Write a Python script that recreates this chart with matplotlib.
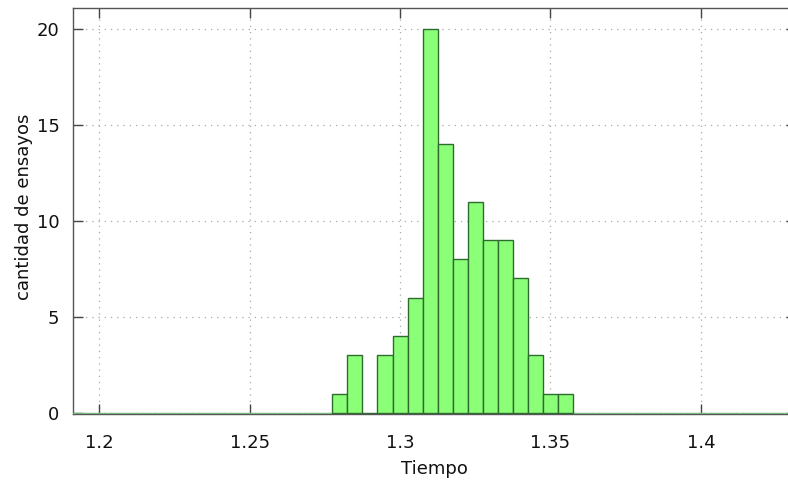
import numpy as np
import matplotlib
matplotlib.use("Agg")
import matplotlib.pyplot as plt

# Histogram of trial times (bin width 0.005)
bin_width = 0.005
bin_centers = [1.280, 1.285, 1.290, 1.295, 1.300, 1.305, 1.310, 1.315,
               1.320, 1.325, 1.330, 1.335, 1.340, 1.345, 1.350, 1.355]
counts = [1, 3, 0, 3, 4, 6, 20, 14, 8, 11, 9, 9, 7, 3, 1, 1]

x_ticks = [1.2, 1.25, 1.3, 1.35, 1.4]
x_tick_labels = ["1.2", "1.25", "1.3", "1.35", "1.4"]
y_ticks = [0, 5, 10, 15, 20]

# empty bins over the rest of the range (drawn as flat boxes on the baseline)
empty_left = np.round(np.arange(1.185, 1.2775, bin_width), 4)
empty_right = np.round(np.arange(1.360, 1.440, bin_width), 4)

plt.rcParams["font.family"] = ["DejaVu Sans"]
fig = plt.figure(figsize=(7.88, 4.83), dpi=100)
ax = fig.add_axes([73.3 / 788, (483 - 414.3) / 483, (796 - 73.3) / 788, (414.3 - 8.3) / 483])

for centers in (empty_left, empty_right):
    ax.bar(centers, np.zeros(len(centers)), width=bin_width, color="#8cff78",
           edgecolor="#78b878", linewidth=1.0, zorder=3)
ax.bar(bin_centers, counts, width=bin_width, color="#8cff78",
       edgecolor="#2e6b2e", linewidth=1.0, zorder=3)

ax.set_xlim(1.1914, 1.4316)
ax.set_ylim(-0.08, 21.06)

ax.set_xticks(x_ticks)
ax.set_xticklabels(x_tick_labels)
ax.set_yticks(y_ticks)

ax.grid(True, color="#a8a8a8", linestyle=(0, (1, 4)), linewidth=0.9, zorder=0)
ax.set_axisbelow(True)

for side in ax.spines.values():
    side.set_color("#555555")
    side.set_linewidth(1.0)

ax.tick_params(axis="both", direction="in", length=7, width=1.0,
               color="#444444", labelsize=13, top=True, right=True,
               labelcolor="#111111")
ax.tick_params(axis="x", pad=14)
ax.tick_params(axis="y", pad=10)

ax.set_xlabel("Tiempo", fontsize=13, labelpad=6, color="#111111")
ax.set_ylabel("cantidad de ensayos", fontsize=13, color="#111111")
ax.yaxis.set_label_coords(-0.056, 0.512)

fig.savefig("out.png", dpi=100)
